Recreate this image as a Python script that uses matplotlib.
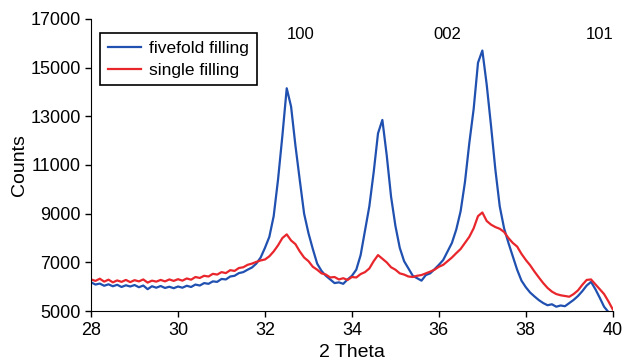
import numpy as np
import matplotlib.pyplot as plt

plt.rcParams['font.family'] = ['Liberation Sans', 'DejaVu Sans']

# 2 Theta values, 28 to 40 in steps of 0.1
two_theta = np.round(np.arange(28.0, 40.05, 0.1), 1)

# fivefold filling
fivefold = [
    6180, 6090, 6130, 6040, 6100, 6020, 6080, 5990, 6060, 6010,
    6070, 5980, 6050, 5900, 6020, 5960, 6030, 5950, 6000, 5940,
    6010, 5960, 6040, 5990, 6090, 6050, 6150, 6120, 6220, 6200,
    6320, 6300, 6420, 6450, 6560, 6600, 6700, 6790, 6950, 7200,
    7600, 8050, 8900, 10400, 12200, 14150, 13400, 11800, 10380, 9000,
    8200, 7550, 6950, 6650, 6450, 6300, 6150, 6180, 6120, 6300,
    6450, 6700, 7300, 8300, 9300, 10700, 12300, 12850, 11400, 9700,
    8500, 7600, 7050, 6750, 6450, 6350, 6250, 6480, 6550, 6720,
    6900, 7100, 7450, 7800, 8350, 9100, 10300, 11900, 13300, 15200,
    15700, 14300, 12600, 10800, 9300, 8400, 7800, 7250, 6700, 6250,
    5980, 5760, 5600, 5450, 5330, 5240, 5280, 5180, 5230, 5200,
    5330, 5460, 5620, 5820, 6050, 6200, 5900, 5550, 5180, 4960,
    4900,
]

# single filling
single = [
    6300, 6240, 6330, 6210, 6290, 6180, 6260, 6200, 6280, 6190,
    6270, 6220, 6300, 6170, 6250, 6210, 6280, 6220, 6300, 6240,
    6310, 6250, 6340, 6290, 6400, 6360, 6450, 6420, 6530, 6500,
    6600, 6560, 6680, 6650, 6770, 6800, 6900, 6950, 7020, 7080,
    7120, 7250, 7450, 7700, 8000, 8150, 7900, 7750, 7450, 7200,
    7050, 6820, 6700, 6550, 6500, 6380, 6400, 6300, 6350, 6280,
    6400, 6380, 6520, 6600, 6750, 7050, 7300, 7150, 7000, 6800,
    6700, 6550, 6500, 6420, 6400, 6450, 6480, 6550, 6620, 6700,
    6820, 6900, 7050, 7200, 7380, 7550, 7800, 8050, 8400, 8900,
    9050, 8700, 8550, 8450, 8380, 8250, 8000, 7800, 7650, 7350,
    7100, 6880, 6620, 6380, 6150, 5950, 5800, 5700, 5650, 5620,
    5590, 5700, 5850, 6080, 6280, 6300, 6100, 5900, 5700, 5400,
    5070,
]

peak_labels = ['100', '002', '101']
peak_pos = [32.83, 36.2, 39.7]

fig = plt.figure(figsize=(6.24, 3.63), dpi=100)
ax = fig.add_axes([0.146, 0.143, 0.836, 0.805])

ax.plot(two_theta, fivefold, color='#2050b0', linewidth=1.6, label='fivefold filling')
ax.plot(two_theta, single, color='#e8262c', linewidth=1.6, label='single filling')

for lab, pos in zip(peak_labels, peak_pos):
    ax.text(pos, 16350, lab, ha='center', va='center', fontsize=12)

ax.set_xlim(28, 40)
ax.set_ylim(5000, 17000)
ax.set_xticks(np.arange(28, 41, 2))
ax.set_yticks(np.arange(5000, 17001, 2000))
ax.tick_params(labelsize=13, direction='out', length=4, width=1)
ax.spines['top'].set_visible(False)
ax.spines['right'].set_visible(False)

ax.set_xlabel('2 Theta', fontsize=14, labelpad=4)
ax.set_ylabel('Counts', fontsize=14, labelpad=2)

leg = ax.legend(loc='upper left', bbox_to_anchor=(0.0, 0.98), fontsize=12.5,
                fancybox=False, edgecolor='black', framealpha=1,
                handlelength=1.9, handletextpad=0.5, borderpad=0.45,
                labelspacing=0.35)
leg.get_frame().set_linewidth(1.2)

plt.savefig('out.png', dpi=100)
